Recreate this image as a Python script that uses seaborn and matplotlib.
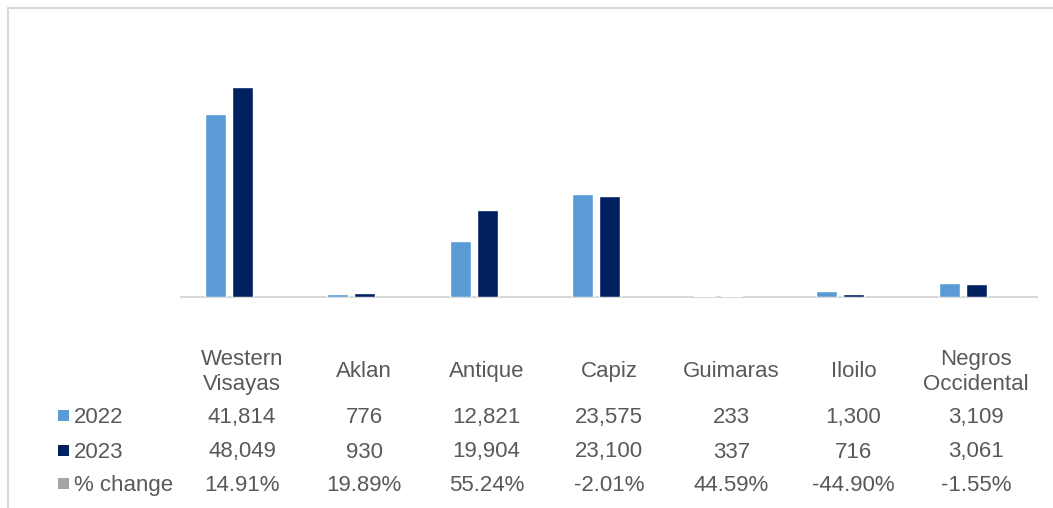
import matplotlib
matplotlib.use("Agg")
import matplotlib.pyplot as plt
import matplotlib.transforms as mtransforms
from matplotlib.patches import Rectangle
import seaborn as sns
import pandas as pd

categories = ["Western\nVisayas", "Aklan", "Antique", "Capiz", "Guimaras", "Iloilo", "Negros\nOccidental"]
values_2022 = [41814, 776, 12821, 23575, 233, 1300, 3109]
values_2023 = [48049, 930, 19904, 23100, 337, 716, 3061]
pct_change = ["14.91%", "19.89%", "55.24%", "-2.01%", "44.59%", "-44.90%", "-1.55%"]
series_labels = ["2022", "2023", "% change"]
colors = {"2022": "#5B9BD5", "2023": "#002060", "% change": "#A5A5A5"}

sns.set_theme(style="white")
plt.rcParams["font.family"] = ["Liberation Sans", "DejaVu Sans"]

W, H = 1053, 508
fig = plt.figure(figsize=(W / 100, H / 100), dpi=100)
ax = fig.add_axes([181 / W, (H - 297) / H, 856 / W, (297 - 36) / H])

df = pd.DataFrame({
    "cat": categories * 2,
    "year": ["2022"] * len(categories) + ["2023"] * len(categories),
    "val": values_2022 + values_2023,
})
sns.barplot(data=df, x="cat", y="val", hue="year", order=categories,
            hue_order=["2022", "2023"], palette=[colors["2022"], colors["2023"]],
            width=0.442, gap=0.222, ax=ax, legend=False, saturation=1)
for p in ax.patches:
    p.set_zorder(3)

ax.set_xlim(-0.392, 6.607)
ax.set_ylim(0, 59700)
ax.set_xticks([])
ax.set_yticks([])
ax.set_xlabel("")
ax.set_ylabel("")
for s in ["top", "left", "right"]:
    ax.spines[s].set_visible(False)
ax.spines["bottom"].set_color("#D9D9D9")
ax.spines["bottom"].set_linewidth(1.5)
ax.spines["bottom"].set_zorder(1)

txt_color = "#595959"
fs = 16
off = 0.107
trans = mtransforms.blended_transform_factory(ax.transData, fig.transFigure)

def fy(py):
    return (H - py) / H

for i, c in enumerate(categories):
    x = i + off
    lines = c.split("\n")
    if len(lines) == 2:
        ax.text(x, fy(365), lines[0], transform=trans, ha="center", va="baseline", fontsize=fs, color=txt_color)
        ax.text(x, fy(390), lines[1], transform=trans, ha="center", va="baseline", fontsize=fs, color=txt_color)
    else:
        ax.text(x, fy(377), c, transform=trans, ha="center", va="baseline", fontsize=fs, color=txt_color)
    ax.text(x, fy(423), f"{values_2022[i]:,}", transform=trans, ha="center", va="baseline", fontsize=fs, color=txt_color)
    ax.text(x, fy(457.5), f"{values_2023[i]:,}", transform=trans, ha="center", va="baseline", fontsize=fs, color=txt_color)
    ax.text(x, fy(491), pct_change[i], transform=trans, ha="center", va="baseline", fontsize=fs, color=txt_color)

row_base = [423, 457.5, 491]
for lab, yb in zip(series_labels, row_base):
    fig.patches.append(Rectangle((58 / W, (H - yb + 2) / H), 11 / W, 11 / H,
                                 transform=fig.transFigure, facecolor=colors[lab], edgecolor="none"))
    fig.text(74 / W, fy(yb), lab, ha="left", va="baseline", fontsize=fs, color=txt_color)

fig.lines.append(plt.Line2D([8 / W, 8 / W], [0, fy(8)], transform=fig.transFigure, color="#D9D9D9", lw=1.5))
fig.lines.append(plt.Line2D([8 / W, 1], [fy(8), fy(8)], transform=fig.transFigure, color="#D9D9D9", lw=1.5))

fig.savefig("out.png", dpi=100)
